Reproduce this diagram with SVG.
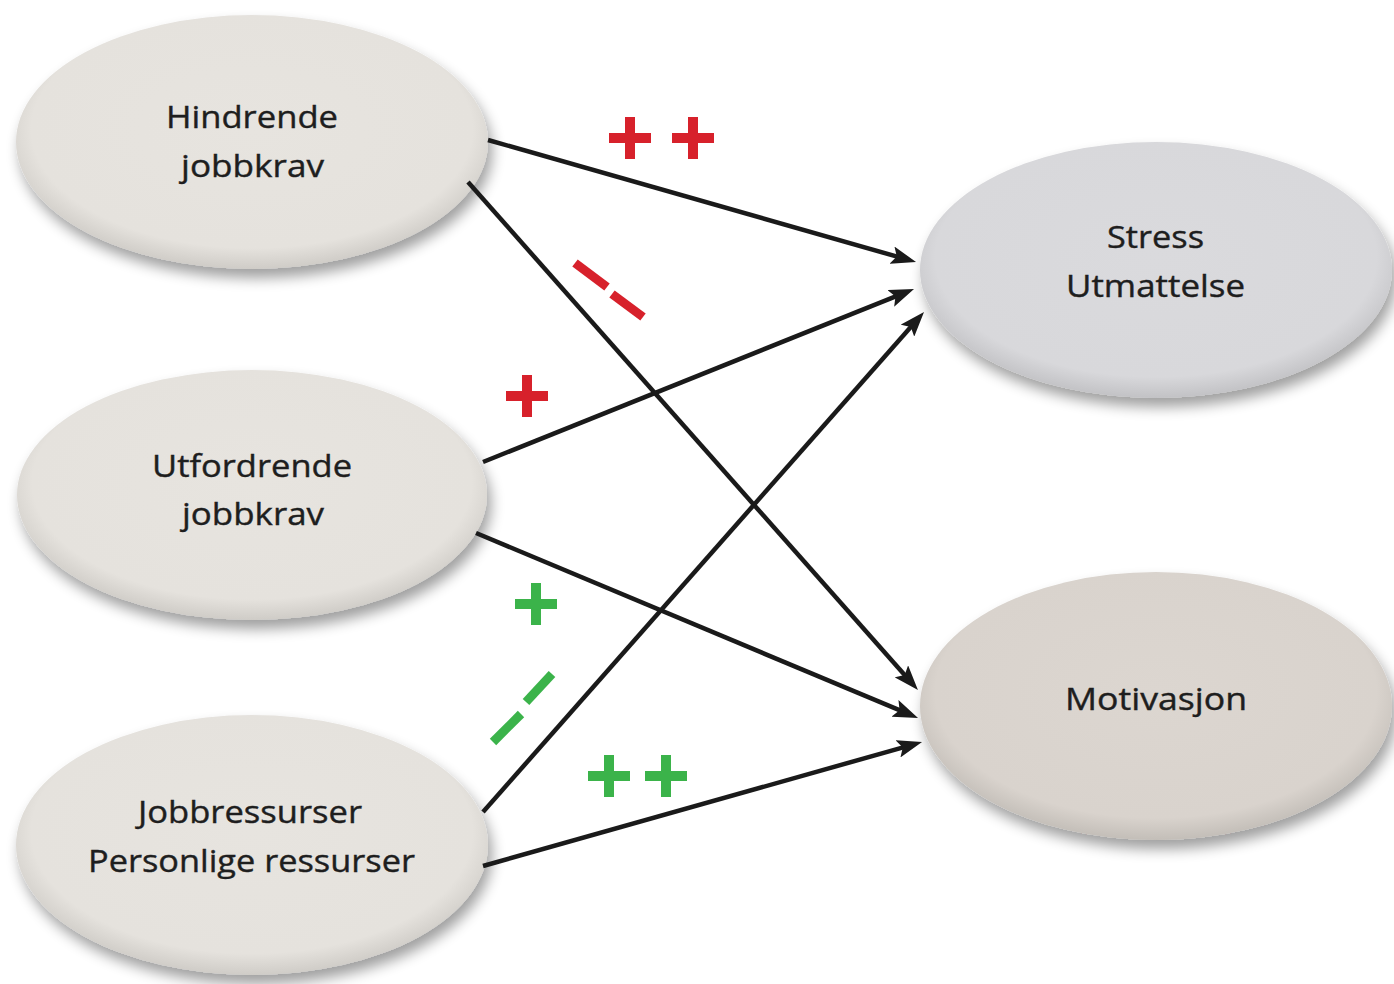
<svg xmlns="http://www.w3.org/2000/svg" width="1394" height="984" viewBox="0 0 1394 984">
<defs>
<filter id="shadow" x="-10%" y="-15%" width="125%" height="140%">
<feGaussianBlur in="SourceAlpha" stdDeviation="7"/>
<feOffset dx="4" dy="9" result="b"/>
<feComponentTransfer><feFuncA type="linear" slope="0.38"/></feComponentTransfer>
<feMerge><feMergeNode/><feMergeNode in="SourceGraphic"/></feMerge>
</filter>
<radialGradient id="gBeige" cx="0.5" cy="0.45" r="0.55">
<stop offset="0" stop-color="#e7e4df"/>
<stop offset="0.85" stop-color="#e5e2dd"/>
<stop offset="1" stop-color="#cfccc7"/>
</radialGradient>
<radialGradient id="gGrey" cx="0.5" cy="0.45" r="0.55">
<stop offset="0" stop-color="#dadadd"/>
<stop offset="0.85" stop-color="#d8d8db"/>
<stop offset="1" stop-color="#c2c2c5"/>
</radialGradient>
<radialGradient id="gWarm" cx="0.5" cy="0.45" r="0.55">
<stop offset="0" stop-color="#dcd6d0"/>
<stop offset="0.85" stop-color="#d9d3cd"/>
<stop offset="1" stop-color="#c3beb8"/>
</radialGradient>
<marker id="arrow" markerUnits="userSpaceOnUse" markerWidth="28" markerHeight="18" refX="10" refY="9" orient="auto">
<path d="M0,0 L25,9 L0,18 L5,9 z" fill="#1a1a1a"/>
</marker>
<path id="plus" d="M-21,-5 h16 v-16 h10 v16 h16 v10 h-16 v16 h-10 v-16 h-16 z"/>
</defs>
<style>
.node { filter: url(#shadow); }
.lbl { font-family: "Open Sans", "Noto Sans", sans-serif; font-size: 31px; fill: #1e1e1e; stroke: #1e1e1e; stroke-width: 0.4; }
.conn { stroke: #1a1a1a; stroke-width: 4.5; fill: none; marker-end: url(#arrow); }
.red { fill: #d7212b; }
.green { fill: #3bb34a; }
.dred { stroke: #d7212b; stroke-width: 9; }
.dgreen { stroke: #3bb34a; stroke-width: 9; }
</style>
<rect width="1394" height="984" fill="#ffffff"/>

<g id="node-hindrende">
<ellipse class="node" cx="252" cy="142" rx="236" ry="127" fill="url(#gBeige)"/>
<text class="lbl" x="166" y="128" textLength="172" lengthAdjust="spacingAndGlyphs">Hindrende</text>
<text class="lbl" x="181" y="177" textLength="143" lengthAdjust="spacingAndGlyphs">jobbkrav</text>
</g>
<g id="node-utfordrende">
<ellipse class="node" cx="252" cy="495" rx="235" ry="125" fill="url(#gBeige)"/>
<text class="lbl" x="152" y="477" textLength="200" lengthAdjust="spacingAndGlyphs">Utfordrende</text>
<text class="lbl" x="182" y="525" textLength="142" lengthAdjust="spacingAndGlyphs">jobbkrav</text>
</g>
<g id="node-jobbressurser">
<ellipse class="node" cx="252" cy="845" rx="236" ry="130" fill="url(#gBeige)"/>
<text class="lbl" x="138" y="823" textLength="224" lengthAdjust="spacingAndGlyphs">Jobbressurser</text>
<text class="lbl" x="88" y="872" textLength="327" lengthAdjust="spacingAndGlyphs">Personlige ressurser</text>
</g>
<g id="node-stress">
<ellipse class="node" cx="1156" cy="270" rx="236" ry="128" fill="url(#gGrey)"/>
<text class="lbl" x="1107" y="248" textLength="97" lengthAdjust="spacingAndGlyphs">Stress</text>
<text class="lbl" x="1066" y="297" textLength="179" lengthAdjust="spacingAndGlyphs">Utmattelse</text>
</g>
<g id="node-motivasjon">
<ellipse class="node" cx="1156" cy="706" rx="236" ry="134" fill="url(#gWarm)"/>
<text class="lbl" x="1065" y="710" textLength="182" lengthAdjust="spacingAndGlyphs">Motivasjon</text>
</g>

<g id="connectors">
<line class="conn" x1="488" y1="140" x2="901.6" y2="257.9"/>
<line class="conn" x1="468" y1="182" x2="908" y2="678.8"/>
<line class="conn" x1="483" y1="462" x2="900.1" y2="294.6"/>
<line class="conn" x1="476" y1="533" x2="904.2" y2="712.2"/>
<line class="conn" x1="483" y1="812" x2="914.1" y2="323.2"/>
<line class="conn" x1="483" y1="866" x2="907.6" y2="746.1"/>
</g>

<g id="signs">
<use href="#plus" class="red" x="630" y="138"/>
<use href="#plus" class="red" x="693" y="138"/>
<line class="dred" x1="575" y1="263" x2="607" y2="287"/>
<line class="dred" x1="612" y1="294" x2="643" y2="317"/>
<use href="#plus" class="red" x="527" y="396"/>
<use href="#plus" class="green" x="536" y="604"/>
<line class="dgreen" x1="552" y1="674" x2="526" y2="702"/>
<line class="dgreen" x1="521" y1="714" x2="493" y2="742"/>
<use href="#plus" class="green" x="609" y="776"/>
<use href="#plus" class="green" x="666" y="776"/>
</g>
</svg>
